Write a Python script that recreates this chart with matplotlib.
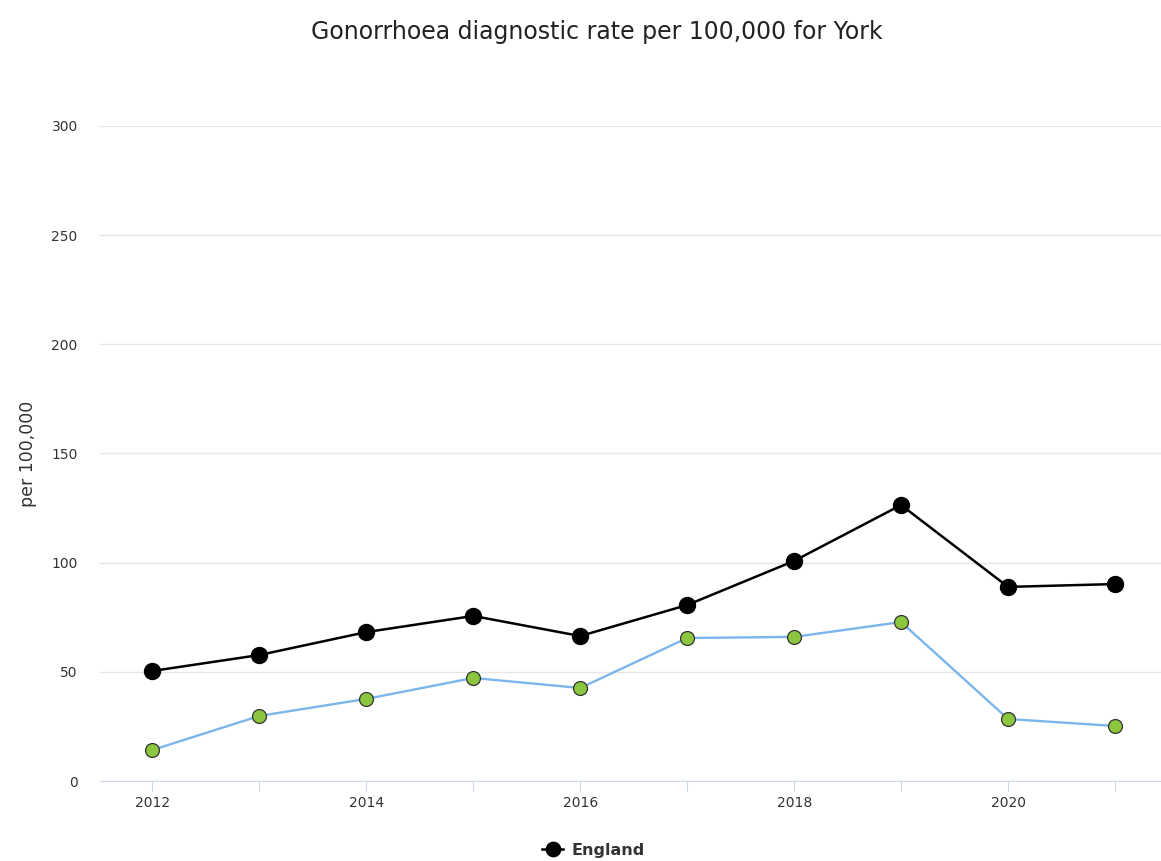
import matplotlib
matplotlib.use("Agg")
import matplotlib.pyplot as plt

years = [2012, 2013, 2014, 2015, 2016, 2017, 2018, 2019, 2020, 2021]
england = [50.4, 57.7, 68.2, 75.6, 66.4, 80.6, 100.8, 126.4, 88.9, 90.2]
york = [14.2, 29.8, 37.6, 47.2, 42.6, 65.5, 66.0, 72.8, 28.4, 25.2]
yticks = [0, 50, 100, 150, 200, 250, 300]
xtick_labels = [2012, 2014, 2016, 2018, 2020]

fig = plt.figure(figsize=(11.61, 8.61), dpi=100)
ax = fig.add_axes([0.0861, 0.0929, 1 - 0.0861, 0.7608])

ax.plot(years, york, color='#7cb5ec', lw=1.7, marker='o', ms=10,
        mfc='#8cc63f', mec='#333333', mew=0.9, zorder=3)
ax.plot(years, england, color='black', lw=1.8, marker='o', ms=11.5,
        mfc='black', mec='black', label='England', zorder=4)

ax.set_ylim(0, 300)
ax.set_xlim(2011.51, 2021.43)
ax.set_yticks(yticks)
ax.set_xticks(years)
ax.set_xticklabels([str(y) if y in xtick_labels else '' for y in years])
ax.grid(axis='y', color='#e6e6e6', lw=1)
ax.set_axisbelow(True)
for s in ['top', 'right', 'left']:
    ax.spines[s].set_visible(False)
ax.spines['bottom'].set_color('#ccd6eb')
ax.tick_params(axis='y', length=0, pad=16, labelsize=10, labelcolor='#333333')
ax.tick_params(axis='x', length=7, color='#ccd6eb', pad=4, labelsize=10,
               labelcolor='#333333')
ax.set_ylabel('per 100,000', fontsize=12.5, color='#333333', labelpad=10)

fig.suptitle('Gonorrhoea diagnostic rate per 100,000 for York', x=0.514, y=0.977,
             fontsize=17, color='#222222')

leg = ax.legend(loc='upper center', bbox_to_anchor=(0.465, -0.072), frameon=False,
                prop={'weight': 'bold', 'size': 11.5}, handlelength=1.3, handletextpad=0.5,
                markerscale=0.9)
for t in leg.get_texts():
    t.set_color('#333333')

fig.savefig('out.png', dpi=100)
